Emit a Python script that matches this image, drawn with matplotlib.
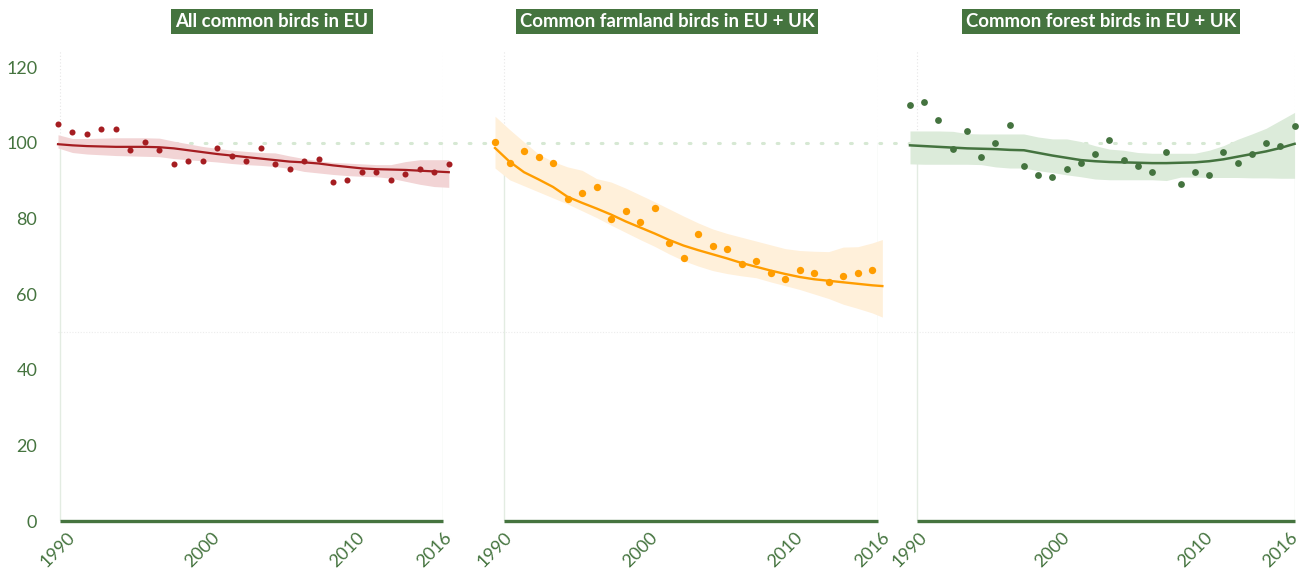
import matplotlib
matplotlib.use("Agg")
import matplotlib.pyplot as plt
from matplotlib.transforms import blended_transform_factory

plt.rcParams['font.family'] = ['Lato', 'DejaVu Sans']

# ---- data (index values, 1990 = ~100) ----
years_all = list(range(1990, 2018))
all_points = [105.0, 102.9, 102.2, 103.6, 103.6, 98.0, 100.1, 98.0, 94.4, 95.1,
              95.1, 98.7, 96.6, 95.1, 98.7, 94.4, 93.0, 95.1, 95.8, 89.5,
              90.2, 92.3, 92.3, 90.2, 91.6, 93.0, 92.3, 94.4]
all_trend = [99.6, 99.3, 99.1, 99.0, 98.9, 98.9, 98.9, 98.8, 98.5, 98.0,
             97.5, 97.0, 96.6, 96.2, 95.8, 95.4, 95.0, 94.8, 94.5, 94.0,
             93.6, 93.2, 93.0, 92.9, 92.8, 92.6, 92.4, 92.2]
all_upper = [102.1, 101.1, 101.1, 101.2, 101.3, 101.3, 101.3, 101.2, 100.4, 99.7,
             99.0, 98.5, 98.0, 97.7, 97.4, 97.3, 96.5, 95.8, 95.2, 94.8,
             94.6, 94.4, 94.2, 94.2, 95.0, 95.5, 95.5, 95.5]
all_lower = [98.6, 97.4, 97.0, 96.8, 96.6, 96.5, 96.4, 96.3, 95.8, 95.5,
             95.2, 94.9, 94.5, 94.2, 94.0, 93.7, 93.2, 92.4, 92.0, 91.6,
             91.3, 91.1, 91.0, 90.6, 89.8, 89.0, 88.4, 88.2]

years_farm = list(range(1990, 2017))
farm_points = [100.2, 94.6, 97.9, 96.2, 94.7, 85.2, 86.8, 88.3, 79.8, 82.0,
               79.0, 82.8, 73.4, 69.6, 75.8, 72.6, 71.8, 67.9, 68.7, 65.5,
               63.9, 66.3, 65.5, 63.2, 64.7, 65.5, 66.3]
years_farm_trend = list(range(1990, 2017)) + [2016.7]
farm_trend = [98.6, 95.0, 92.2, 90.3, 88.3, 85.7, 84.1, 82.6, 81.0, 79.2,
              77.6, 76.0, 74.3, 72.8, 71.6, 70.5, 69.4, 68.2, 67.2, 66.2,
              65.3, 64.5, 63.9, 63.5, 63.1, 62.7, 62.3, 62.1]
farm_upper = [107.0, 103.5, 100.2, 97.0, 95.0, 93.6, 92.7, 90.5, 89.6, 88.0,
              86.2, 84.4, 82.5, 80.6, 78.8, 77.2, 76.0, 75.0, 74.0, 73.0,
              72.0, 71.5, 71.3, 71.2, 72.4, 72.5, 73.5, 74.4]
farm_lower = [93.3, 90.2, 88.6, 87.0, 85.4, 83.8, 82.0, 80.2, 78.2, 76.3,
              74.4, 72.6, 70.6, 68.8, 67.4, 66.2, 65.4, 64.8, 64.3, 63.2,
              62.2, 61.2, 60.0, 58.8, 57.3, 56.2, 55.0, 53.9]

years_forest = list(range(1990, 2018))
forest_points = [110.0, 110.8, 106.1, 98.4, 103.0, 96.1, 100.0, 104.6, 93.8, 91.5,
                 90.8, 93.0, 94.6, 96.9, 100.7, 95.3, 93.8, 92.3, 97.6, 89.2,
                 92.3, 91.5, 97.6, 94.6, 96.9, 100.0, 99.2, 104.5]
forest_trend = [99.3, 99.1, 98.9, 98.7, 98.5, 98.4, 98.3, 98.1, 98.0, 97.3,
                96.6, 96.0, 95.4, 95.1, 94.9, 94.8, 94.7, 94.6, 94.6, 94.7,
                94.8, 95.1, 95.6, 96.3, 97.0, 97.7, 98.6, 99.7]
forest_upper = [103.1, 103.1, 103.1, 103.0, 102.4, 102.3, 102.3, 102.3, 102.3, 101.5,
                101.0, 101.0, 100.3, 99.2, 98.3, 98.0, 97.4, 97.2, 97.2, 97.2,
                97.2, 98.0, 99.2, 100.9, 102.3, 103.8, 105.9, 108.0]
forest_lower = [94.4, 94.3, 94.3, 94.3, 94.3, 94.2, 93.6, 93.3, 93.3, 92.6,
                92.1, 91.5, 91.0, 90.4, 90.2, 90.2, 90.2, 90.2, 90.0, 90.9,
                90.9, 90.8, 90.8, 90.8, 90.7, 90.7, 90.6, 90.6]

titles = ["All common birds in EU", "Common farmland birds in EU + UK",
          "Common forest birds in EU + UK"]
xticks = [1990, 2000, 2010, 2016]
yticks = [0, 20, 40, 60, 80, 100, 120]

GREEN = "#45743f"
W, H = 1309, 575

fig = plt.figure(figsize=(W / 100, H / 100), dpi=100)

# pixel layout of each panel: (left px, right px, x-limits in years)
panels = [
    (58, 443, (1990.14, 2016.60)),
    (495, 878, (1990.61, 2016.40)),
    (910, 1295, (1990.48, 2017.03)),
]
series = [
    (years_all, all_points, years_all, all_trend, all_upper, all_lower,
     "#a51d21", "#f2d4d5", 19, 1.6),
    (years_farm, farm_points, years_farm_trend, farm_trend, farm_upper, farm_lower,
     "#ff9d00", "#fff0da", 28, 1.7),
    (years_forest, forest_points, years_forest, forest_trend, forest_upper, forest_lower,
     "#44733f", "#dcebda", 24, 1.8),
]
title_x = [272, 667, 1101]

bottom = (H - 521) / H
top = (H - 50) / H
YMAX = 124.5

# background axes spanning all panels, for the shared reference lines
bg = fig.add_axes([58 / W, bottom, (1295 - 58) / W, top - bottom])
bg.set_xlim(0, 1)
bg.set_ylim(0, YMAX)
bg.axis("off")
bg.plot([0, 1], [100, 100], color="#d6e8d3", lw=2.2, ls=(0, (0.6, 4.2)),
        dash_capstyle="round", zorder=1)
bg.plot([0, 1], [50, 50], color="#ececec", lw=0.8, ls=(0, (1, 1.5)), zorder=1)

axes = []
for i, ((l, r, xl), s) in enumerate(zip(panels, series)):
    ax = fig.add_axes([l / W, bottom, (r - l) / W, top - bottom])
    ax.patch.set_visible(False)
    axes.append(ax)
    xs, ys, xt, yt, up, lo, col, band, msize, lw = s
    ax.set_xlim(*xl)
    ax.set_ylim(0, YMAX)
    for sp in ax.spines.values():
        sp.set_visible(False)

    # edge guides: solid below 100, dotted above
    for xe in xl:
        ax.plot([xe, xe], [0, 100], color="#e3ece2", lw=1, zorder=0)
        ax.plot([xe, xe], [100, YMAX], color="#e6e6e6", lw=0.8, ls=(0, (1, 2)), zorder=0)

    ax.fill_between(xt, lo, up, color=band, lw=0, zorder=2, clip_on=False)
    ax.plot(xt, yt, color=col, lw=lw, zorder=3, clip_on=False)
    ax.scatter(xs, ys, s=msize, color=col, lw=0, zorder=4, clip_on=False)

    ax.plot(xl, [0, 0], color=GREEN, lw=2.4, solid_capstyle="butt", zorder=5, clip_on=False)

    ax.set_xticks(xticks)
    ax.set_xticklabels([str(t) for t in xticks], rotation=45, ha="center")
    ax.tick_params(axis="x", length=0, pad=6, labelsize=13, labelcolor=GREEN)
    ax.set_yticks(yticks)
    if i == 0:
        ax.tick_params(axis="y", length=0, pad=15, labelsize=13, labelcolor=GREEN)
    else:
        ax.tick_params(axis="y", length=0, labelleft=False)

    fig.text(title_x[i] / W, (H - 21.5) / H, titles[i], ha="center", va="center",
             color="white", fontsize=13.4, fontweight="bold",
             bbox=dict(boxstyle="square,pad=0.22", fc=GREEN, ec="none"))

fig.savefig("out.png", dpi=100, facecolor="white")
